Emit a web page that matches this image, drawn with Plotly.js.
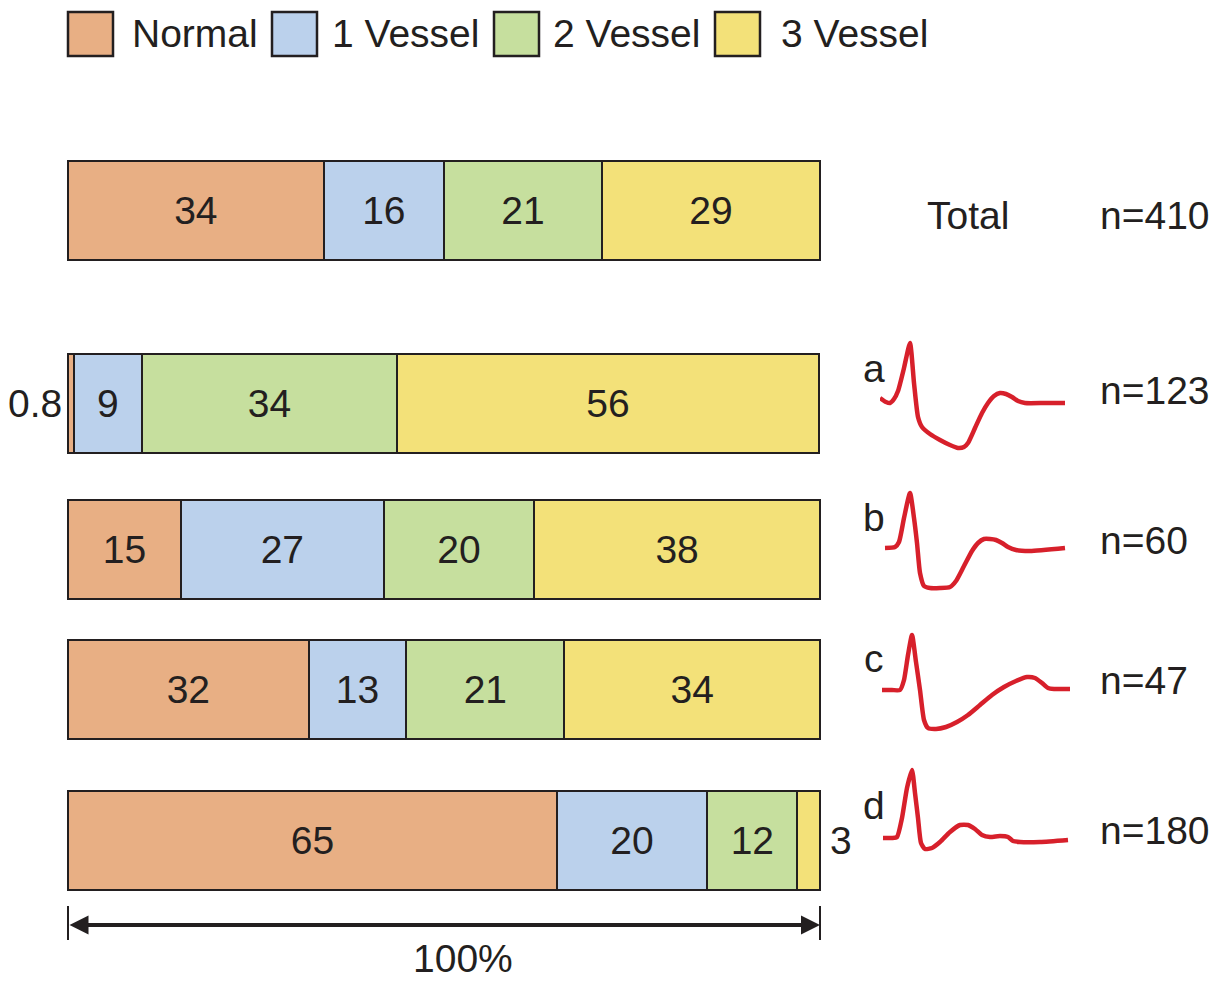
<!DOCTYPE html>
<html>
<head>
<meta charset="utf-8">
<script src="https://cdn.plot.ly/plotly-3.0.1.min.js"></script>
<style>html,body{margin:0;padding:0;background:#fff;}#chart{width:1224px;height:984px;}</style>
</head>
<body>
<div id="chart"></div>
<script>
// ---- data ----
var rows = ['Total', 'a', 'b', 'c', 'd'];
var nCounts = ['n=410', 'n=123', 'n=60', 'n=47', 'n=180'];
var categories = ['Normal', '1 Vessel', '2 Vessel', '3 Vessel'];
var normal  = [34, 0.8, 15, 32, 65];
var vessel1 = [16, 9, 27, 13, 20];
var vessel2 = [21, 34, 20, 21, 12];
var vessel3 = [29, 56, 38, 34, 3];
var scaleLabel = '100%';

// ECG-like waveforms (time units, amplitude relative to baseline)
var waveA_t = [0, 6, 10, 14, 18, 24, 30, 34, 38, 42, 50, 60, 70, 78, 84, 88, 95, 102, 108, 114, 120, 126, 132, 138, 145, 165, 185];
var waveA_v = [5, 1, 0, 4, 12, 35, 60, 20, -14, -24, -31, -37, -42, -45, -44, -40, -25, -10, 0, 7, 10, 9, 6, 2, 0, 0, 0];
var waveB_t = [5, 15, 19, 24, 30, 34, 37, 40, 44, 50, 60, 70, 76, 84, 92, 98, 104, 110, 116, 122, 128, 136, 150, 185];
var waveB_v = [0, 1, 6, 30, 55, 30, 5, -25, -38, -40, -40, -39, -33, -18, -3, 5, 9, 9, 8, 5, 1, -2, -3, 0];
var waveC_t = [2, 12, 20, 24, 28, 32, 36, 40, 44, 48, 56, 66, 77, 88, 100, 112, 124, 136, 147, 155, 162, 168, 174, 190];
var waveC_v = [0, 0, 0, 10, 35, 55, 28, 0, -30, -38, -39, -37, -32, -25, -15, -5, 3, 9, 13, 12, 7, 2, 1, 1];
var waveD_t = [3, 12, 17, 22, 27, 32, 35, 38, 41, 45, 52, 60, 70, 80, 88, 95, 102, 110, 120, 128, 133, 140, 160, 188];
var waveD_v = [0, 0, 1, 20, 50, 68, 45, 20, -5, -11, -10, -4, 6, 13, 13, 9, 3, 1, 2, 1, -3, -4, -4, -2];

// ---- layout helpers (pixel geometry of the figure) ----
var W = 1224, H = 984;
var barLeftPx = 68, barRightPx = 820;
var unitPx = (barRightPx - barLeftPx) / 100;
var rowCenterPx = [210.5, 403, 549.5, 689.5, 840.5];
var barThickPx = 99;
var waveBaselinePx = [null, 403, 548, 690, 838];
var waveLeftPx = 880, waveWidthPx = 190;
var FONT = '"Liberation Sans", Arial, Helvetica, sans-serif';
var FS = 39;
var INK = '#231f20';
var colors = ['#E8AF84', '#BBD1EC', '#C6DF9E', '#F3E179'];
var series = [normal, vessel1, vessel2, vessel3];

function px(xp) { return xp / W; }
function py(yp) { return 1 - yp / H; }

var traces = [];
series.forEach(function (vals, k) {
  traces.push({
    type: 'bar', orientation: 'h', name: categories[k],
    x: vals, y: rowCenterPx, width: barThickPx,
    marker: {color: colors[k], line: {color: INK, width: 2}},
    text: vals.map(function (v) { return v < 5 ? '' : String(v); }),
    textposition: 'inside', insidetextanchor: 'middle', textangle: 0,
    constraintext: 'none',
    textfont: {family: FONT, size: FS, color: INK},
    hoverinfo: 'x+name', showlegend: false, xaxis: 'x', yaxis: 'y'
  });
});

var waves = [[waveA_t, waveA_v], [waveB_t, waveB_v], [waveC_t, waveC_v], [waveD_t, waveD_v]];
var layout = {
  width: W, height: H,
  margin: {l: 0, r: 0, t: 0, b: 0},
  paper_bgcolor: '#ffffff', plot_bgcolor: 'rgba(0,0,0,0)',
  barmode: 'stack', bargap: 0,
  showlegend: false,
  font: {family: FONT, color: INK},
  xaxis: {range: [-barLeftPx / unitPx, (W - barLeftPx) / unitPx], visible: false, fixedrange: true},
  yaxis: {range: [H, 0], visible: false, fixedrange: true},
  shapes: [], annotations: []
};

var waveUp = 80, waveDown = 60;
waves.forEach(function (w, i) {
  var n = i + 2;
  var base = waveBaselinePx[i + 1];
  traces.push({
    type: 'scatter', mode: 'lines', x: w[0], y: w[1],
    line: {color: '#D7202B', width: 4.5, shape: 'spline', smoothing: 0.55},
    hoverinfo: 'skip', showlegend: false,
    xaxis: 'x' + n, yaxis: 'y' + n
  });
  layout['xaxis' + n] = {domain: [px(waveLeftPx), px(waveLeftPx + waveWidthPx)], range: [0, waveWidthPx], visible: false, anchor: 'y' + n, fixedrange: true};
  layout['yaxis' + n] = {domain: [py(base + waveDown), py(base - waveUp)], range: [-waveDown, waveUp], visible: false, anchor: 'x' + n, fixedrange: true};
});

// legend (custom swatches)
var legendBoxPx = [68, 272, 494, 715];
var legendTextPx = [130, 330, 551, 779];
categories.forEach(function (c, k) {
  layout.shapes.push({type: 'rect', xref: 'paper', yref: 'paper',
    x0: px(legendBoxPx[k]), x1: px(legendBoxPx[k] + 45), y0: py(56), y1: py(12),
    fillcolor: colors[k], line: {color: INK, width: 2.5}});
  layout.annotations.push({xref: 'paper', yref: 'paper', x: px(legendTextPx[k]), y: py(34),
    xanchor: 'left', yanchor: 'middle', text: c, showarrow: false,
    font: {family: FONT, size: FS, color: INK}});
});

// row labels and counts
var rowLabelYPx = [216, 368, 517, 658, 805];
var countYPx = [216, 390, 540, 680, 830];
rows.forEach(function (r, i) {
  layout.annotations.push({xref: 'paper', yref: 'paper',
    x: px(i === 0 ? 968 : 874), y: py(rowLabelYPx[i]), xanchor: 'center', yanchor: 'middle',
    text: r, showarrow: false, font: {family: FONT, size: FS, color: INK}});
  layout.annotations.push({xref: 'paper', yref: 'paper',
    x: px(1098), y: py(countYPx[i]), xanchor: 'left', yanchor: 'middle',
    text: nCounts[i], showarrow: false, font: {family: FONT, size: FS, color: INK}});
});

// small-segment labels outside bars
rows.forEach(function (r, i) {
  if (normal[i] < 5) {
    layout.annotations.push({xref: 'x', yref: 'y', x: 0, y: rowCenterPx[i],
      xanchor: 'right', yanchor: 'middle', xshift: -4, text: String(normal[i]), showarrow: false,
      font: {family: FONT, size: FS, color: INK}});
  }
  if (vessel3[i] < 5) {
    var total = normal[i] + vessel1[i] + vessel2[i] + vessel3[i];
    layout.annotations.push({xref: 'x', yref: 'y', x: total, y: rowCenterPx[i],
      xanchor: 'left', yanchor: 'middle', xshift: 8, text: String(vessel3[i]), showarrow: false,
      font: {family: FONT, size: FS, color: INK}});
  }
});

// 100% scale arrow
var arrowYPx = 925;
layout.annotations.push({xref: 'x', yref: 'y', axref: 'x', ayref: 'y',
  x: 100, y: arrowYPx, ax: 0, ay: arrowYPx, text: '', showarrow: true,
  arrowside: 'end+start', arrowhead: 2, arrowsize: 0.95, arrowwidth: 4, arrowcolor: INK});
[0, 100].forEach(function (xv) {
  layout.shapes.push({type: 'line', xref: 'x', yref: 'y', x0: xv, x1: xv, y0: 906, y1: 940,
    line: {color: INK, width: 2}});
});
layout.annotations.push({xref: 'paper', yref: 'paper', x: px(463), y: py(958),
  xanchor: 'center', yanchor: 'middle', text: scaleLabel, showarrow: false,
  font: {family: FONT, size: FS, color: INK}});

Plotly.newPlot('chart', traces, layout, {displayModeBar: false, staticPlot: true});
</script>
</body>
</html>
